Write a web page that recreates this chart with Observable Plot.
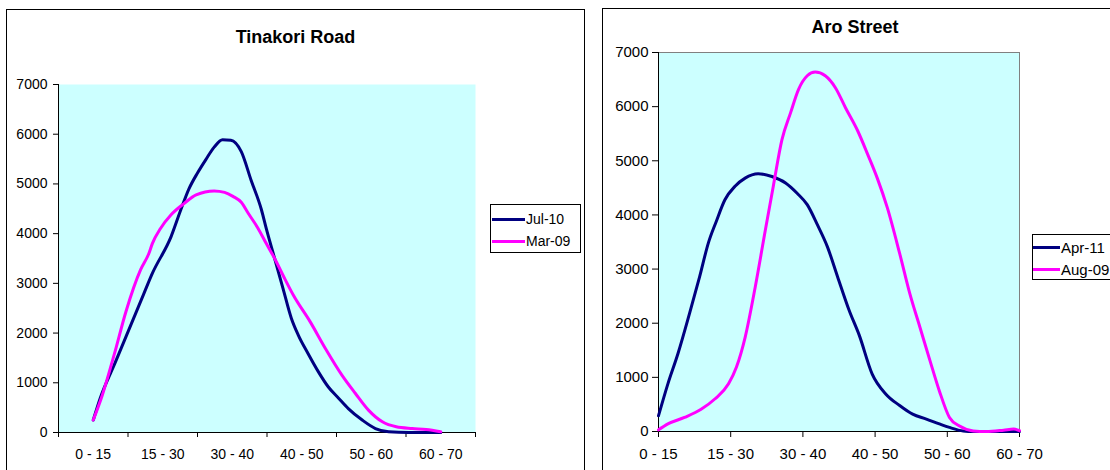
<!DOCTYPE html>
<html><head><meta charset="utf-8">
<script src="https://cdn.jsdelivr.net/npm/d3@7"></script>
<script src="https://cdn.jsdelivr.net/npm/@observablehq/plot@0.6"></script>
<style>
body{margin:0;background:#fff;font-family:"Liberation Sans",Arial,sans-serif;}
#wrap{position:relative;width:1110px;height:470px;overflow:hidden;background:#fff;}
.frame{position:absolute;border:1.3px solid #000;box-sizing:border-box;}
.abs{position:absolute;}
.title{position:absolute;font-weight:bold;font-size:18px;line-height:18px;white-space:nowrap;transform:translateX(-50%);color:#000;}
.legend{position:absolute;border:1px solid #000;background:#fff;box-sizing:border-box;}
.sw{position:absolute;height:3px;}
.lt{position:absolute;white-space:nowrap;color:#000;}
</style></head>
<body><div id="wrap"></div>
<script>
// ---- data ----
const categories = ["0 - 15","15 - 30","30 - 40","40 - 50","50 - 60","60 - 70"];
const yTicks = [0,1000,2000,3000,4000,5000,6000,7000];
const tinakoriTitle = "Tinakori Road";
const aroTitle = "Aro Street";
const tinakoriSeries = ["Jul-10","Mar-09"];
const aroSeries = ["Apr-11","Aug-09"];
const seriesColors = ["#000080","#FF00FF"];

// positions in category units (0 = left edge of first category)
const jul10Pos = [0.5,0.60,0.82,1.04,1.23,1.35,1.62,1.76,1.88,2.0,2.12,2.24,2.36,2.48,2.63,2.77,2.92,2.99,3.11,3.23,3.35,3.45,3.59,3.74,3.88,4.03,4.17,4.37,4.56,4.75,5.04,5.5];
const jul10Val = [250,690,1420,2160,2800,3200,3940,4480,4910,5220,5490,5740,5890,5880,5650,5080,4480,4100,3500,2900,2300,1960,1590,1220,920,690,480,250,80,15,0,0];
const mar09Pos = [0.5,0.63,0.80,0.97,1.18,1.30,1.35,1.47,1.62,1.81,1.98,2.24,2.39,2.51,2.63,2.73,2.87,2.99,3.11,3.26,3.38,3.62,3.84,4.08,4.27,4.46,4.66,4.86,5.09,5.29,5.5];
const mar09Val = [250,750,1560,2430,3270,3600,3800,4110,4380,4610,4780,4860,4830,4750,4630,4410,4110,3800,3500,3080,2760,2230,1690,1150,790,450,215,115,80,60,15];

const apr11Pos = [0,0.13,0.27,0.43,0.57,0.69,0.80,0.92,1.06,1.20,1.38,1.57,1.76,1.92,2.06,2.20,2.34,2.48,2.64,2.78,2.96,3.15,3.34,3.52,3.71,3.89,4.03,4.22,4.36,5.0];
const apr11Val = [290,880,1440,2180,2860,3480,3880,4280,4530,4680,4760,4710,4590,4400,4190,3820,3410,2860,2240,1780,1060,690,480,320,230,140,75,10,0,0];
const aug09Pos = [0,0.13,0.36,0.59,0.78,0.97,1.08,1.20,1.34,1.48,1.59,1.71,1.83,1.94,2.06,2.17,2.31,2.45,2.59,2.76,2.90,3.03,3.17,3.34,3.48,3.62,3.76,3.89,4.03,4.17,4.36,4.54,4.78,4.92,5.0];
const aug09Val = [30,140,260,410,600,880,1190,1740,2670,3720,4530,5390,5890,6320,6570,6640,6570,6350,5980,5550,5110,4680,4130,3290,2550,1930,1310,750,260,100,10,0,25,45,15];

// ---- build ----
const rows = (pos, val, s) => pos.map((p, i) => ({x: p, y: val[i], s}));
const tinakoriData = [...rows(jul10Pos, jul10Val, tinakoriSeries[0]), ...rows(mar09Pos, mar09Val, tinakoriSeries[1])];
const aroData = [...rows(apr11Pos, apr11Val, aroSeries[0]), ...rows(aug09Pos, aug09Val, aroSeries[1])];

const wrap = document.getElementById("wrap");
function add(el, css){ Object.assign(el.style, css); wrap.appendChild(el); return el; }
function div(cls, css, text){ const d = document.createElement("div"); d.className = cls; if (text != null) d.textContent = text; return add(d, css); }

// chart frames
div("frame", {left:"6px", top:"9px", width:"579px", height:"500px"});
div("frame", {left:"602px", top:"8px", width:"560px", height:"500px"});

const font = "Liberation Sans, Arial, sans-serif";

const left = Plot.plot({
  width: 590, height: 470,
  marginLeft: 58, marginRight: 115, marginTop: 84, marginBottom: 38,
  style: {fontFamily: font, fontSize: "14px", color: "#000", background: "transparent", overflow: "visible"},
  x: {domain: [0, categories.length]},
  y: {domain: [0, 7000]},
  color: {domain: tinakoriSeries, range: seriesColors},
  marks: [
    Plot.frame({fill: "#CCFFFF", stroke: "none"}),
    Plot.axisY({ticks: yTicks, tickSize: 5, tickPadding: 6, tickFormat: d => String(d), label: null, fontSize: 14}),
    Plot.axisX({ticks: d3.range(categories.length + 1), tickSize: 5, tickFormat: () => "", label: null}),
    Plot.axisX({ticks: categories.map((c, i) => i + 0.5), tickSize: 0, tickPadding: 17, tickFormat: d => categories[Math.floor(d)], label: null, fontSize: 14}),
    Plot.ruleX([0], {stroke: "#000"}),
    Plot.ruleY([0], {stroke: "#000"}),
    Plot.line(tinakoriData, {x: "x", y: "y", z: "s", stroke: "s", strokeWidth: 3, curve: "monotone-x"})
  ]
});
add(left, {position: "absolute", left: "0px", top: "0px"});

const right = Plot.plot({
  width: 520, height: 470,
  marginLeft: 68, marginRight: 91, marginTop: 52, marginBottom: 39,
  style: {fontFamily: font, fontSize: "15px", color: "#000", background: "transparent", overflow: "visible"},
  x: {domain: [0, categories.length - 1]},
  y: {domain: [0, 7000]},
  color: {domain: aroSeries, range: seriesColors},
  marks: [
    Plot.frame({fill: "#CCFFFF", stroke: "#808080"}),
    Plot.axisY({ticks: yTicks, tickSize: 6, tickPadding: 4, tickFormat: d => String(d), label: null, fontSize: 15}),
    Plot.axisX({ticks: d3.range(categories.length), tickSize: 6, tickPadding: 11, tickFormat: d => categories[d], label: null, fontSize: 15}),
    Plot.ruleX([0], {stroke: "#000"}),
    Plot.ruleY([0], {stroke: "#000"}),
    Plot.line(aroData, {x: "x", y: "y", z: "s", stroke: "s", strokeWidth: 3, curve: "monotone-x"})
  ]
});
add(right, {position: "absolute", left: "590px", top: "0px"});

// titles
div("title", {left: "295.5px", top: "27.5px"}, tinakoriTitle);
div("title", {left: "855px", top: "17.5px"}, aroTitle);

// legends
function legend(box, names, rowsY, swX0, swX1, textX, fs){
  div("legend", box);
  names.forEach((n, i) => {
    div("sw", {left: swX0 + "px", width: (swX1 - swX0) + "px", top: (rowsY[i] - 1.5) + "px", background: seriesColors[i]});
    div("lt", {left: textX + "px", top: (rowsY[i] - fs / 2) + "px", fontSize: fs + "px", lineHeight: fs + "px"}, n);
  });
}
legend({left: "490px", top: "204px", width: "91px", height: "49px"}, tinakoriSeries, [219, 241], 492, 525, 526, 14);
legend({left: "1032px", top: "234px", width: "100px", height: "46px"}, aroSeries, [247, 269], 1033, 1060, 1061, 15);
</script>
</body></html>
